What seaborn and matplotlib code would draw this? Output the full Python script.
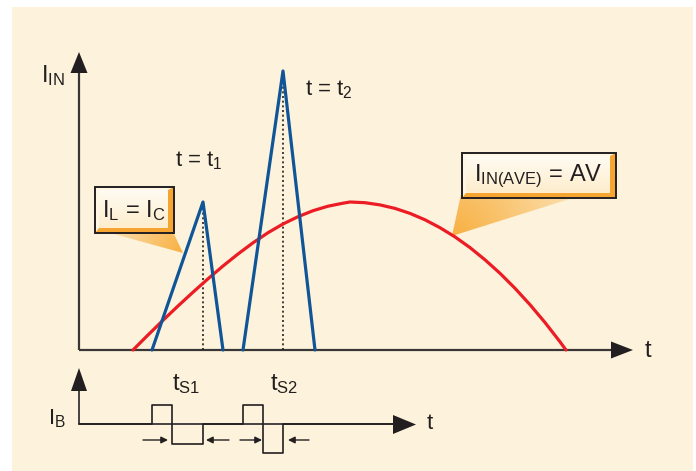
import numpy as np
import pandas as pd
import matplotlib
matplotlib.use("Agg")
import matplotlib.pyplot as plt
from matplotlib.patches import Polygon, Rectangle
import seaborn as sns

# ---- waveform data (t from the origin, current measured upward) ----
tri1_t = [73, 124, 144]          # inductor current ramp, first cycle
tri1_i = [0, 148, 0]
tri2_t = [164, 204, 236]         # inductor current ramp, second cycle
tri2_i = [0, 279, 0]
ave_t = [54, 69, 84, 99, 114, 129, 144, 159, 174, 189, 204, 219, 234, 249,
         264, 271, 286, 301, 316, 331, 346, 361, 376, 391, 406, 421, 436,
         451, 466, 481, 487]
ave_i = [0, 15, 29.7, 44, 57.8, 71.2, 84, 96, 107.2, 117.3, 126, 133.3,
         139.3, 143.8, 146.8, 148, 147.3, 145.1, 141.6, 136.6, 130.2, 122.3,
         113.1, 102.4, 90.2, 76.7, 61.7, 45.3, 27.5, 8.2, 0]
# base drive current (step edges and levels)
ib_t = [0, 73, 93, 124, 164, 184, 204, 314]
ib_v = [0, 19, -20, 0, 19, -29, 0, 0]
# storage-time markers: (tail, head) pairs
ts_arrows = [(64, 89), (150, 127), (161, 183), (230, 209)]
ts_labels = ["t$_{S1}$", "t$_{S2}$"]
ts_label_t = [107, 205]

sns.set_style("white")
plt.rcParams["font.family"] = ["Liberation Sans", "DejaVu Sans"]
plt.rcParams["mathtext.fontset"] = "custom"
plt.rcParams["mathtext.rm"] = "Liberation Sans"
plt.rcParams["mathtext.it"] = "Liberation Sans"
plt.rcParams["mathtext.default"] = "regular"

INK = "#231F20"
AXC = "#3a3536"
BLUE = "#0f5597"
RED = "#ec1c24"
CREAM = "#fdf3dc"
ORANGE = np.array([247, 164, 38]) / 255

W, H = 696, 471
fig = plt.figure(figsize=(W / 100, H / 100), dpi=100)
fig.patch.set_facecolor("white")

# pixel-space layer for the panel, callouts and labels
ax0 = fig.add_axes([0, 0, 1, 1], zorder=0)
ax0.set_xlim(0, W)
ax0.set_ylim(H, 0)
ax0.axis("off")
ax0.add_patch(Rectangle((12, 7), 681, 464, fc=CREAM, ec="none", zorder=0))

# main data axes: origin of the I_IN plot
ax = fig.add_axes([0, 0, 1, 1], zorder=2)
ax.set_xlim(-79, W - 79)
ax.set_ylim(-(H - 350), 350)
ax.axis("off")
ax.patch.set_alpha(0)

# base-current data axes
axb = fig.add_axes([0, 0, 1, 1], zorder=2)
axb.set_xlim(-79, W - 79)
axb.set_ylim(-(H - 424), 424)
axb.axis("off")
axb.patch.set_alpha(0)


def wedge(pts, tip, amax=0.85):
    pts = np.array(pts, dtype=float)
    x0, y0 = pts.min(0)
    x1, y1 = pts.max(0)
    nx, ny = int(x1 - x0) + 2, int(y1 - y0) + 2
    X, Y = np.meshgrid(np.linspace(x0, x1, nx), np.linspace(y0, y1, ny))
    d = np.hypot(X - tip[0], Y - tip[1])
    a = np.clip(1 - d / d.max(), 0, 1) ** 0.9 * amax
    img = np.zeros((ny, nx, 4))
    img[..., :3] = ORANGE
    img[..., 3] = a
    im = ax0.imshow(img, extent=(x0, x1, y1, y0), origin="upper",
                    zorder=2, interpolation="bilinear", aspect="auto")
    poly = Polygon(pts, closed=True, fc="none", ec="none")
    ax0.add_patch(poly)
    im.set_clip_path(poly)


def bevel_box(L, T, R, B, text, fs):
    ax0.add_patch(Rectangle((L, T), R - L, B - T, fc="#f5a530", ec="none", zorder=5))
    bl, bt, br, bb = 4, 3, 6, 5
    ax0.add_patch(Polygon([(L, T), (R, T), (R - br, T + bt), (L + bl, T + bt),
                           (L + bl, B - bb), (L, B)], fc="#fff7e6", ec="none", zorder=5))
    g = np.linspace(0, 1, 64)[:, None, None]
    top = np.array([1.0, 0.985, 0.95])
    bot = np.array([0.995, 0.93, 0.80])
    face = (top * (1 - g) + bot * g) * np.ones((1, 8, 3))
    ax0.imshow(face, extent=(L + bl, R - br, B - bb, T + bt), origin="upper",
               zorder=6, interpolation="bilinear", aspect="auto")
    ax0.add_patch(Rectangle((L, T), R - L, B - T, fc="none", ec=INK, lw=1.4, zorder=7))
    ax0.text((L + R) / 2 - 1, (T + B) / 2 + 1, text, fontsize=fs, color=INK,
             ha="center", va="center", zorder=8)


# callouts
wedge([(92, 228), (165, 215), (183, 253)], (183, 253))
wedge([(452, 236), (463, 185), (614, 185)], (452, 236))
bevel_box(95, 187, 174, 233, "I$_L$ = I$_C$", 17)
bevel_box(462, 153, 616, 198, "I$_{IN(AVE)}$ = AV", 17)

# axes with arrowheads
ax0.plot([79, 79], [350, 72], color=AXC, lw=1.6, zorder=3, solid_capstyle="butt")
ax0.plot([79, 612], [350, 350], color=AXC, lw=1.6, zorder=3, solid_capstyle="butt")
ax0.add_patch(Polygon([(79, 52), (70.5, 73), (87.5, 73)], fc=INK, ec="none", zorder=4))
ax0.add_patch(Polygon([(633, 350), (611, 341.5), (611, 358.5)], fc=INK, ec="none", zorder=4))
ax0.plot([79, 79], [424, 390], color=AXC, lw=1.3, zorder=3, solid_capstyle="butt")
ax0.add_patch(Polygon([(79, 368), (71, 391), (87, 391)], fc=INK, ec="none", zorder=4))
ax0.add_patch(Polygon([(416, 424.5), (393, 415), (393, 434)], fc=INK, ec="none", zorder=4))

# axis labels
ax0.text(41, 82, "I$_{IN}$", fontsize=17, color=INK, ha="left", va="baseline")
ax0.text(645, 357, "t", fontsize=17, color=INK, ha="left", va="baseline")
ax0.text(48, 424, "I$_B$", fontsize=16, color=INK, ha="left", va="baseline")
ax0.text(427, 429, "t", fontsize=16, color=INK, ha="left", va="baseline")

# ---- I_IN plot ----
df_ave = pd.DataFrame({"t": ave_t, "i": ave_i})
sns.lineplot(data=df_ave, x="t", y="i", ax=ax, color=RED, lw=2.3,
             estimator=None, sort=False, legend=False,
             solid_joinstyle="round")
for tt, ii in ((tri1_t, tri1_i), (tri2_t, tri2_i)):
    sns.lineplot(x=tt, y=ii, ax=ax, color=BLUE, lw=2.3, estimator=None,
                 sort=False, legend=False)
    ax.vlines(tt[1], 0, ii[1], colors=INK, lw=1.2, linestyles=(0, (1.2, 1.6)), zorder=1)

ax.text(tri1_t[1] - 28, tri1_i[1] + 36, "t = t$_1$", fontsize=16, color=INK,
        ha="left", va="baseline")
ax.text(tri2_t[1] + 22, tri2_i[1] - 24, "t = t$_2$", fontsize=16, color=INK,
        ha="left", va="baseline")

# ---- base current plot ----
axb.plot([0, 314], [0, 0], color=AXC, lw=1.3, zorder=1)
sns.lineplot(x=ib_t, y=ib_v, ax=axb, color=INK, lw=1.2, estimator=None,
             sort=False, legend=False, drawstyle="steps-post")
for tail, head in ts_arrows:
    axb.annotate("", xy=(head, -16), xytext=(tail, -16),
                 arrowprops=dict(arrowstyle="-|>", color=INK, lw=1.0,
                                 mutation_scale=10, shrinkA=0, shrinkB=0))
for lab, x in zip(ts_labels, ts_label_t):
    axb.text(x, 34, lab, fontsize=17, color=INK, ha="center", va="baseline")

fig.savefig("out.png", dpi=100, facecolor="white")
